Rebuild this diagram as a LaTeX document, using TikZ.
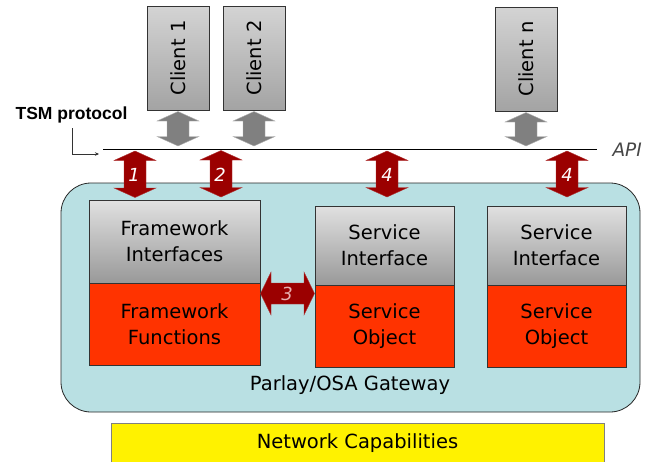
\documentclass[tikz,border=0pt]{standalone}
\usepackage{fontspec}
\setmainfont{DejaVu Sans}
\newfontfamily\tsmfont{Liberation Sans}
\usetikzlibrary{arrows.meta}
\definecolor{gwfill}{RGB}{185,224,227}
\definecolor{redbox}{RGB}{255,51,0}
\definecolor{darkred}{RGB}{155,0,0}
\definecolor{grayarr}{RGB}{128,128,128}
\definecolor{lbl3}{RGB}{232,176,176}
\newcommand\vdarr[4]{% cx, ytop, ybottom, style
  \path[#4] (#1,#2) -- (#1+21,#2+9.5) -- (#1+11,#2+9.5) -- (#1+11,#3-9.5) -- (#1+21,#3-9.5)
    -- (#1,#3) -- (#1-21,#3-9.5) -- (#1-11,#3-9.5) -- (#1-11,#2+9.5) -- (#1-21,#2+9.5) -- cycle;}
\tikzset{
  txt/.style={font=\fontsize{19.5}{26}\selectfont, align=center},
  graybox/.style={txt, draw=black!80, line width=0.8pt, top color=black!12, bottom color=black!40, inner sep=0pt},
  redfun/.style={txt, draw=black!80, line width=0.8pt, fill=redbox, inner sep=0pt},
  clientbox/.style={draw=black!80, line width=0.8pt, top color=black!17, bottom color=black!36,
    minimum width=62, minimum height=104, inner sep=0pt, font=\fontsize{19.5}{23}\selectfont},
  redarr/.style={fill=darkred, draw=darkred!80!white, line width=0.4pt},
  grarr/.style={fill=grayarr, draw=black!30, line width=0.4pt},
  numlbl/.style={text=white, font=\fontsize{18}{20}\selectfont\itshape, inner sep=0pt},
}
\begin{document}
\begin{tikzpicture}[x=1pt,y=-1pt]
\useasboundingbox (0,0) rectangle (655,461);
% gateway
\node[draw=black!85, line width=0.8pt, fill=gwfill, rounded corners=30, minimum width=579, minimum height=229, inner sep=0pt] (gw) at (350.5,297.5) {};
\node[txt] (gwl) at (350,385) {Parlay/OSA Gateway};
% framework
\node[graybox, minimum width=171, minimum height=83] (fi) at (174.5,241.5) {Framework\\Interfaces};
\node[redfun, minimum width=171, minimum height=82] (ff) at (174.5,324) {Framework\\Functions};
% services
\node[graybox, minimum width=139, minimum height=79] (si1) at (384.5,245.5) {Service\\Interface};
\node[redfun, minimum width=139, minimum height=82] (so1) at (384.5,326) {Service\\Object};
\node[graybox, minimum width=139, minimum height=79] (si2) at (556.5,245.5) {Service\\Interface};
\node[redfun, minimum width=139, minimum height=82] (so2) at (556.5,326) {Service\\Object};
% network
\node[draw=black!50, line width=0.8pt, fill=yellow, minimum width=493, minimum height=46, inner sep=0pt, anchor=north] (nc) at (357.5,423) {};
\node[txt] (ncl) at (357.5,443) {Network Capabilities};
% clients
\node[clientbox] (c1) at (178,58) {\rotatebox{90}{Client 1}};
\node[clientbox] (c2) at (254,58) {\rotatebox{90}{Client 2}};
\node[clientbox] (cn) at (526,59) {\rotatebox{90}{Client n}};
% API line
\coordinate (apiL) at (103,149.5);
\coordinate (apiR) at (597,149.5);
\draw[line width=0.8pt] (apiL) -- (apiR);
\node[text=black!72, font=\fontsize{18.5}{20}\selectfont\itshape, anchor=west] (api) at (609,150) {API};
% TSM protocol
\node[font=\tsmfont\fontsize{17.5}{20}\selectfont\bfseries] (tsm) at (71.5,115) {TSM protocol};
\coordinate (tsmend) at (99,154);
\draw[black!80, line width=0.5pt, -{Stealth[length=4pt,width=3.5pt]}] (72,128) |- (tsmend);
% gray arrows
\vdarr{178}{111.5}{146}{grarr}
\vdarr{254}{111.5}{146}{grarr}
\vdarr{526}{112.5}{146}{grarr}
% red arrows
\vdarr{135}{151}{197.5}{redarr}
\vdarr{221}{150.5}{197}{redarr}
\vdarr{387}{151}{197}{redarr}
\vdarr{567}{151}{197}{redarr}
\node[numlbl] (n1) at (134,175) {1};
\node[numlbl] (n2) at (220,175) {2};
\node[numlbl] (n4a) at (387,175) {4};
\node[numlbl] (n4b) at (567,175) {4};
% arrow 3
\path[redarr] (260.5,293.5) -- (271,272) -- (271,283) -- (304,283) -- (304,272) -- (314.5,293.5)
  -- (304,315) -- (304,304) -- (271,304) -- (271,315) -- cycle;
\node[numlbl, text=lbl3] (n3) at (287,293.5) {3};
\end{tikzpicture}
\end{document}
